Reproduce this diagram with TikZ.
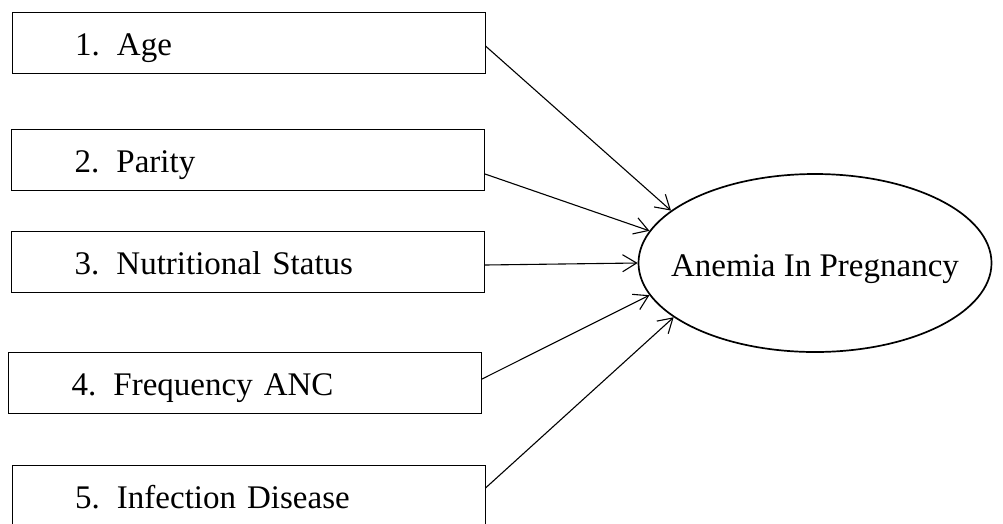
\documentclass[tikz,border=0pt]{standalone}
\usepackage{fontspec}
\setmainfont{Liberation Serif}
\usetikzlibrary{shapes.geometric, arrows.meta}

\begin{document}
\begin{tikzpicture}[x=1pt, y=-1pt,
    factor/.style={draw, line width=1pt, text width=347pt, inner xsep=63pt,
      minimum height=61pt, align=left, text height=25pt, text depth=0pt,
      font=\fontsize{33}{40}\selectfont},
    outcome/.style={draw, ellipse, line width=1.7pt, minimum width=353pt,
      minimum height=178pt, inner sep=0pt},
    link/.style={line width=1.1pt, -{Straight Barb[length=14pt, width=17pt]}}]
  \useasboundingbox (0,0) rectangle (1003,523);
  % risk factors
  \foreach \x/\y/\n/\lab in {248.5/42.5/1/Age, 248/159.5/2/Parity,
      248/262/3/Nutritional Status, 245/383/4/Frequency ANC,
      248.5/495.5/5/Infection Disease} {
    \node[factor] (f\n) at (\x,\y) {\makebox[42pt][l]{\n.}\lab};
  }
  \node[outcome, label={[font=\fontsize{33}{40}\selectfont, text height=27pt,
      text depth=0pt]center:Anemia In Pregnancy}] (anemia) at (815,263) {};
  % arrows
  \draw[link] ([yshift=-3.5pt]f1.east)  -- (anemia.160);
  \draw[link] ([yshift=-14.5pt]f2.east) -- (anemia.169);
  \draw[link] ([yshift=-3pt]f3.east)    -- (anemia.180);
  \draw[link] ([yshift=4pt]f4.east)     -- (anemia.191);
  \draw[link] ([yshift=7.5pt]f5.east)   -- (anemia.201);
\end{tikzpicture}
\end{document}
